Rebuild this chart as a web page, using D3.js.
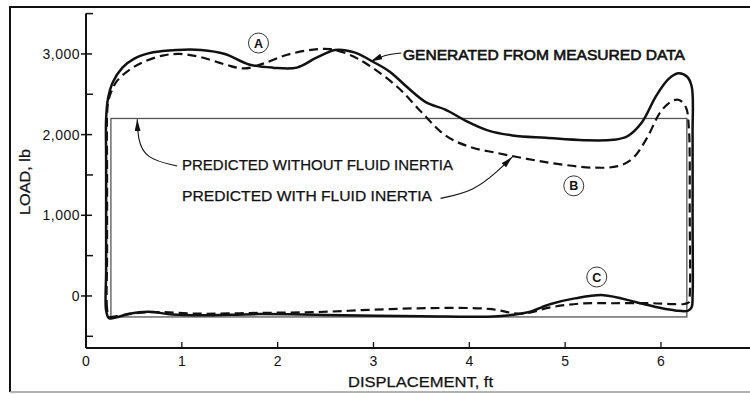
<!DOCTYPE html>
<html lang="en">
<head>
    <meta charset="UTF-8">
    <title>Load vs Displacement</title>
    <style>
        body {
            margin: 0;
            background: #ffffff;
            overflow: hidden;
        }
        svg text {
            font-family: "Liberation Sans", Arial, sans-serif;
            fill: #111;
        }
        .tick-label {
            font-size: 14px;
        }
        .note {
            font-size: 14px;
            stroke: #111;
            stroke-width: 0.25px;
        }
    </style>
</head>
<body>
    <svg id="chart"></svg>

    <script src="https://d3js.org/d3.v7.min.js"></script>
    <script>
        // ticks
        const xTicks = [0, 1, 2, 3, 4, 5, 6];
        const yTicks = [0, 1000, 2000, 3000];
        const yTickLabels = ["0", "1,000", "2,000", "3,000"];
        const yMinorTicks = [-500, 500, 1500, 2500, 3500];

        // solid loop: generated from measured data
        const measuredX = [0.24, 0.21, 0.21, 0.21, 0.21, 0.21, 0.23, 0.28, 0.38, 0.50,
                           0.70, 0.95, 1.20, 1.45, 1.70, 1.95, 2.20, 2.40, 2.60, 2.80,
                           3.00, 3.17, 3.35, 3.55, 3.75, 3.95, 4.20, 4.45, 4.80, 5.20,
                           5.50, 5.65, 5.80, 5.95, 6.08, 6.18, 6.27, 6.32, 6.33, 6.33,
                           6.33, 6.32, 6.28, 6.15, 6.00, 5.75, 5.40, 5.10, 4.85, 4.60,
                           4.30, 3.50, 2.50, 1.80, 1.20, 0.90, 0.65, 0.45, 0.32];
        const measuredY = [-275, -180, 300, 1000, 1700, 2200, 2450, 2650, 2830, 2940,
                           3020, 3050, 3050, 3000, 2870, 2830, 2830, 2950, 3050, 3020,
                           2900, 2780, 2590, 2400, 2310, 2180, 2050, 1990, 1960, 1930,
                           1935, 1980, 2150, 2480, 2690, 2760, 2720, 2600, 2000, 1000,
                           0, -140, -185, -180, -150, -80, 10, -30, -100, -205,
                           -250, -250, -235, -225, -240, -230, -195, -220, -265];

        // dashed loop: predicted with fluid inertia
        const inertiaX = [0.24, 0.22, 0.22, 0.22, 0.22, 0.23, 0.26, 0.32, 0.45, 0.60,
                          0.80, 0.98, 1.20, 1.45, 1.65, 1.85, 2.10, 2.35, 2.55, 2.75,
                          2.95, 3.25, 3.50, 3.75, 4.00, 4.30, 4.60, 4.90, 5.30, 5.55,
                          5.70, 5.85, 6.00, 6.12, 6.19, 6.26, 6.29, 6.30, 6.30, 6.29,
                          6.24, 6.10, 5.90, 5.50, 5.15, 4.85, 4.55, 4.20, 3.60, 3.00,
                          2.40, 1.80, 1.20, 0.70, 0.45, 0.32];
        const inertiaY = [-255, -160, 500, 1500, 2250, 2400, 2520, 2660, 2800, 2900,
                          2980, 3000, 2960, 2870, 2820, 2880, 2990, 3050, 3060, 2990,
                          2860, 2590, 2280, 1990, 1850, 1770, 1700, 1640, 1590, 1610,
                          1700, 1950, 2290, 2420, 2430, 2340, 2100, 1000, 0, -80,
                          -100, -100, -90, -90, -95, -140, -220, -160, -150, -170,
                          -200, -210, -220, -200, -225, -250];

        // thin rectangle: predicted without fluid inertia
        const noInertiaX = [0.26, 6.27];
        const noInertiaY = [-260, 2200];

        // circled callouts
        const calloutText = ["A", "B", "C"];
        const calloutX = [1.80, 5.09, 5.33];
        const calloutY = [3135, 1365, 235];

        const width = 750, height = 394;

        const svg = d3.select("#chart")
            .attr("width", width)
            .attr("height", height);

        const x = d3.scaleLinear().domain([0, 7]).range([86, 756.8]);
        const y = d3.scaleLinear().domain([-645, 3500]).range([348, 13.6]);

        // frame
        svg.append("line").attr("x1", 10).attr("x2", width).attr("y1", 7).attr("y2", 7)
            .attr("stroke", "#111").attr("stroke-width", 2);
        svg.append("line").attr("x1", 10).attr("x2", 10).attr("y1", 6).attr("y2", 392)
            .attr("stroke", "#111").attr("stroke-width", 2);
        svg.append("line").attr("x1", 10).attr("x2", width).attr("y1", 392).attr("y2", 392)
            .attr("stroke", "#999").attr("stroke-width", 1.5);

        // axes
        const axisG = svg.append("g").attr("stroke", "#111");
        axisG.append("line")
            .attr("x1", x(0)).attr("x2", width)
            .attr("y1", y(-645)).attr("y2", y(-645))
            .attr("stroke-width", 2.2);
        axisG.append("line")
            .attr("x1", x(0)).attr("x2", x(0))
            .attr("y1", y(3500)).attr("y2", y(-645))
            .attr("stroke-width", 2);

        axisG.selectAll(".ymaj").data(yTicks).enter().append("line")
            .attr("x1", x(0) - 5).attr("x2", x(0) + 6)
            .attr("y1", d => y(d)).attr("y2", d => y(d))
            .attr("stroke-width", 1.5);
        axisG.selectAll(".ymin").data(yMinorTicks).enter().append("line")
            .attr("x1", x(0)).attr("x2", x(0) + 7)
            .attr("y1", d => y(d)).attr("y2", d => y(d))
            .attr("stroke-width", 1.5);
        axisG.selectAll(".xt").data(xTicks.slice(1)).enter().append("line")
            .attr("x1", d => x(d)).attr("x2", d => x(d))
            .attr("y1", y(-645)).attr("y2", y(-645) - 6)
            .attr("stroke-width", 1.3);

        svg.selectAll(".ylab").data(yTicks).enter().append("text")
            .attr("class", "tick-label")
            .attr("x", x(0) - 6)
            .attr("y", d => y(d) + 5)
            .attr("text-anchor", "end")
            .style("letter-spacing", "0.5px")
            .text((d, i) => yTickLabels[i]);

        svg.selectAll(".xlab").data(xTicks).enter().append("text")
            .attr("class", "tick-label")
            .attr("x", d => x(d))
            .attr("y", 366)
            .attr("text-anchor", "middle")
            .text(d => d);

        svg.append("text")
            .attr("class", "note")
            .attr("x", 348).attr("y", 387)
            .attr("textLength", 145).attr("lengthAdjust", "spacingAndGlyphs")
            .text("DISPLACEMENT, ft");

        svg.append("text")
            .attr("class", "note")
            .attr("transform", "translate(30,215) rotate(-90)")
            .attr("textLength", 66).attr("lengthAdjust", "spacingAndGlyphs")
            .text("LOAD, lb");

        // curves
        svg.append("rect")
            .attr("x", x(noInertiaX[0]))
            .attr("y", y(noInertiaY[1]))
            .attr("width", x(noInertiaX[1]) - x(noInertiaX[0]))
            .attr("height", y(noInertiaY[0]) - y(noInertiaY[1]))
            .attr("fill", "none")
            .attr("stroke", "#555")
            .attr("stroke-width", 1.3);

        const loop = d3.line()
            .x(d => x(d[0]))
            .y(d => y(d[1]))
            .curve(d3.curveCatmullRomClosed.alpha(0.5));

        svg.append("path")
            .attr("d", loop(inertiaX.map((v, i) => [v, inertiaY[i]])))
            .attr("fill", "none")
            .attr("stroke", "#111")
            .attr("stroke-width", 2.2)
            .attr("stroke-dasharray", "9,5");

        svg.append("path")
            .attr("d", loop(measuredX.map((v, i) => [v, measuredY[i]])))
            .attr("fill", "none")
            .attr("stroke", "#111")
            .attr("stroke-width", 2.5)
            .attr("stroke-linejoin", "round");

        // callouts
        const callouts = svg.selectAll(".callout").data(calloutText).enter().append("g")
            .attr("transform", (d, i) => `translate(${x(calloutX[i])},${y(calloutY[i])})`);
        callouts.append("circle")
            .attr("r", 10)
            .attr("fill", "white")
            .attr("stroke", "#333")
            .attr("stroke-width", 1);
        callouts.append("text")
            .attr("text-anchor", "middle")
            .attr("y", 4.5)
            .style("font-size", "12.5px")
            .style("font-weight", "bold")
            .text(d => d);

        // labels and arrows
        svg.append("defs").append("marker")
            .attr("id", "head")
            .attr("viewBox", "0 0 12 6")
            .attr("refX", 12).attr("refY", 3)
            .attr("markerWidth", 12).attr("markerHeight", 6)
            .attr("markerUnits", "userSpaceOnUse")
            .attr("orient", "auto")
            .append("path")
            .attr("d", "M0,0 L12,3 L0,6 Z")
            .attr("fill", "#111");

        svg.append("text")
            .attr("class", "note")
            .attr("x", 403).attr("y", 60)
            .attr("textLength", 282).attr("lengthAdjust", "spacingAndGlyphs")
            .style("stroke-width", "0.6px")
            .text("GENERATED FROM MEASURED DATA");
        svg.append("text")
            .attr("class", "note")
            .attr("x", 182).attr("y", 170)
            .attr("textLength", 271).attr("lengthAdjust", "spacingAndGlyphs")
            .text("PREDICTED WITHOUT FLUID INERTIA");
        svg.append("text")
            .attr("class", "note")
            .attr("x", 182).attr("y", 201)
            .attr("textLength", 250).attr("lengthAdjust", "spacingAndGlyphs")
            .text("PREDICTED WITH FLUID INERTIA");

        const arrowLine = d3.line()
            .x(d => x(d[0]))
            .y(d => y(d[1]))
            .curve(d3.curveBasis);

        const arrows = [
            [[3.29, 3012], [3.12, 2990], [2.97, 2905]],
            [[0.95, 1611], [0.62, 1700], [0.54, 1950], [0.535, 2190]],
            [[3.70, 1210], [4.05, 1300], [4.30, 1550], [4.45, 1725]]
        ];
        svg.selectAll(".arrow").data(arrows).enter().append("path")
            .attr("d", d => arrowLine(d))
            .attr("fill", "none")
            .attr("stroke", "#111")
            .attr("stroke-width", 1.1)
            .attr("marker-end", "url(#head)");
    </script>
</body>
</html>
